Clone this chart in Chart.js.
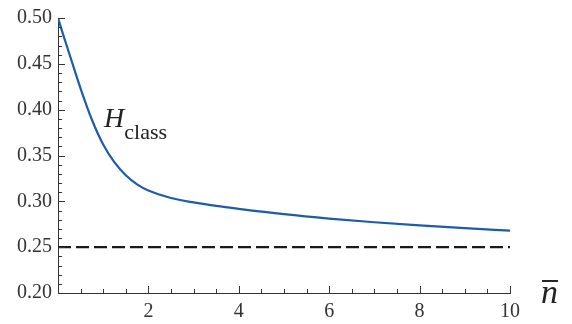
<!DOCTYPE html>
<html>
<head>
<meta charset="utf-8">
<script src="https://cdn.jsdelivr.net/npm/chart.js@4/dist/chart.umd.min.js"></script>
<style>
  html, body { margin: 0; padding: 0; background: #fff; }
  #wrap { width: 572px; height: 324px; }
</style>
</head>
<body>
<div id="wrap"><canvas id="c" width="572" height="324"></canvas></div>
<script>
// Mean occupation number n̄ and the classical quantity H_class
const nbar = [0, 0.1, 0.25, 0.5, 0.75, 1, 1.25, 1.5, 1.75, 2, 2.5, 3, 3.5, 4, 5, 6, 7, 8, 9, 10];
const hClass = [0.500, 0.484, 0.461, 0.423, 0.389, 0.362, 0.3425, 0.3285, 0.3185, 0.3118, 0.3037, 0.2988, 0.2950, 0.2918, 0.2860, 0.2812, 0.2772, 0.2737, 0.2707, 0.2680];
// Asymptotic limit drawn as a dashed reference line
const limitX = [0, 10];
const limitY = [0.25, 0.25];

const xTicksMajor = [2, 4, 6, 8, 10];
const yTicksMajor = [0.20, 0.25, 0.30, 0.35, 0.40, 0.45, 0.50];

const SERIF = "'Liberation Serif', 'DejaVu Serif', serif";
const AXIS = '#333333';

// Inward-pointing major and minor ticks plus the in-plot labels
const decorations = {
  id: 'decorations',
  afterDraw(chart) {
    const { ctx, chartArea: a, scales: { x, y } } = chart;
    ctx.save();
    ctx.strokeStyle = AXIS;
    ctx.lineWidth = 1;
    ctx.beginPath();
    for (let i = 1; i <= 20; i++) {
      const v = i * 0.5;
      const px = Math.round(x.getPixelForValue(v)) + 0.5;
      const len = (i % 4 === 0) ? 7 : 4;
      ctx.moveTo(px, a.bottom);
      ctx.lineTo(px, a.bottom - len);
    }
    for (let i = 21; i <= 50; i++) {
      const v = i / 100;
      const py = Math.round(y.getPixelForValue(v)) + 0.5;
      const len = (i % 5 === 0) ? 7 : 4;
      ctx.moveTo(a.left, py);
      ctx.lineTo(a.left + len, py);
    }
    ctx.stroke();

    // curve label H_class
    ctx.fillStyle = '#222';
    ctx.textBaseline = 'alphabetic';
    ctx.textAlign = 'left';
    const hx = x.getPixelForValue(1.02);
    const hy = y.getPixelForValue(0.3806);
    ctx.font = "italic 28px " + SERIF;
    ctx.fillText('H', hx, hy);
    const hw = ctx.measureText('H').width;
    ctx.font = "22px " + SERIF;
    ctx.fillText('class', hx + hw, hy + 12);

    // axis title n̄
    ctx.font = "italic 34px " + SERIF;
    const nx = a.right + 31;
    const ny = a.bottom + 10;
    ctx.fillText('n', nx, ny);
    const nw = ctx.measureText('n').width;
    ctx.fillRect(nx + 1, ny - 23, nw - 1, 2);
    ctx.restore();
  }
};

function build() {
  new Chart(document.getElementById('c'), {
    type: 'line',
    data: {
      datasets: [
        {
          data: nbar.map((v, i) => ({ x: v, y: hClass[i] })),
          borderColor: '#1f5ca8',
          borderWidth: 2.2,
          pointRadius: 0,
          cubicInterpolationMode: 'monotone',
          fill: false
        },
        {
          data: limitX.map((v, i) => ({ x: v, y: limitY[i] })),
          borderColor: '#1a1a1a',
          borderWidth: 2.2,
          borderDash: [13, 5],
          pointRadius: 0,
          fill: false
        }
      ]
    },
    options: {
      responsive: false,
      animation: false,
      events: [],
      layout: { padding: { top: 14, right: 62, left: 0, bottom: 0 } },
      plugins: { legend: { display: false }, tooltip: { enabled: false } },
      scales: {
        x: {
          type: 'linear',
          min: 0, max: 10,
          afterFit(s) { s.height = 31; },
          afterBuildTicks(s) { s.ticks = xTicksMajor.map(v => ({ value: v })); },
          grid: { display: true, drawOnChartArea: false, drawTicks: false },
          border: { display: true, color: AXIS, width: 1 },
          ticks: {
            padding: 7,
            color: AXIS,
            font: { family: SERIF, size: 20 },
            maxRotation: 0,
            autoSkip: false,
            callback: v => String(v)
          }
        },
        y: {
          type: 'linear',
          min: 0.2, max: 0.5,
          afterFit(s) { s.width = 58; },
          afterBuildTicks(s) { s.ticks = yTicksMajor.map(v => ({ value: v })); },
          grid: { display: true, drawOnChartArea: false, drawTicks: false },
          border: { display: true, color: AXIS, width: 1 },
          ticks: {
            padding: 6,
            color: AXIS,
            font: { family: SERIF, size: 20 },
            autoSkip: false,
            callback: v => Number(v).toFixed(2)
          }
        }
      }
    },
    plugins: [decorations]
  });
}

Promise.all([
  document.fonts.load("20px 'Liberation Serif'"),
  document.fonts.load("italic 28px 'Liberation Serif'")
]).catch(() => {}).then(build);
</script>
</body>
</html>
